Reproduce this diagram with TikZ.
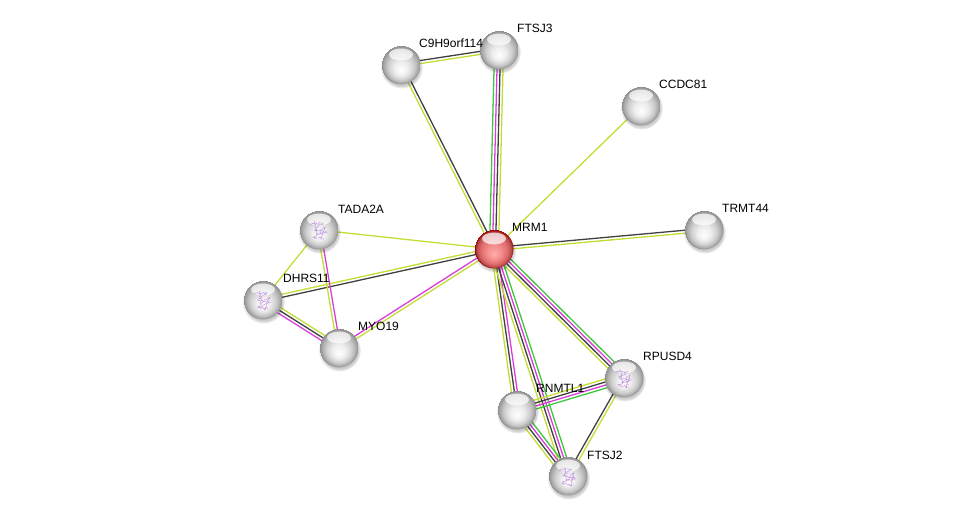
\documentclass[tikz,border=0pt]{standalone}
\usepackage{fontspec}
\setmainfont{Liberation Sans}
\usetikzlibrary{calc,shadows,decorations.pathmorphing}
\pgfdeclarelayer{background}
\pgfsetlayers{background,main}
\definecolor{ylw}{RGB}{196,220,52}
\definecolor{blk}{RGB}{64,64,64}
\definecolor{mag}{RGB}{220,60,220}
\definecolor{grn}{RGB}{60,200,60}
\definecolor{prot}{RGB}{180,120,220}
\pgfdeclareradialshading{greyball}{\pgfpoint{0bp}{-7bp}}{color(0bp)=(white); color(9bp)=(white!93!black); color(17bp)=(white!80!black); color(22bp)=(white!66!black); color(25bp)=(white!55!black)}
\pgfdeclareradialshading{redball}{\pgfpoint{0bp}{-7bp}}{color(0bp)=(red!32!white); color(9bp)=(red!42!white!96!black); color(17bp)=(red!52!white!88!black); color(22bp)=(red!58!white!72!black); color(25bp)=(red!60!black)}
\tikzset{
  ball/.style={circle, minimum size=39pt, inner sep=0pt, shading=greyball,
     circular drop shadow={shadow xshift=0.5pt, shadow yshift=-2pt, opacity=0.2, fill=black}},
  redb/.style={ball, shading=redball},
  lbl/.style={anchor=base west, inner sep=0pt, font=\fontsize{12}{14}\selectfont},
  hl/.style={fill=white, opacity=0.7},
  protein/.style={prot, line width=0.4pt, opacity=0.8, decorate, decoration={random steps, segment length=1.5pt, amplitude=1.2pt}},
}
\newcommand\link[4]{%
  \begin{pgfonlayer}{background}
  \foreach \cc [count=\ii] in {#4}{%
    \pgfmathsetmacro\off{(\ii-(#3+1)/2)*3.0}%
    \draw[\cc, line width=1.3pt] ($(#1)!\off pt!90:(#2)$) -- ($(#2)!\off pt!-90:(#1)$);
  }
  \end{pgfonlayer}}
\newcommand\shine[1]{\fill[hl] ($(#1)+(0,-10.5)$) ellipse (12 and 6);}
\newcommand\struct[1]{%
  \draw[protein] ($(#1)+(-9,-6)$) -- ($(#1)+(4,-7)$) -- ($(#1)+(-5,0)$) -- ($(#1)+(8,2)$) -- ($(#1)+(-6,7)$) -- ($(#1)+(5,9)$);
  \draw[protein] ($(#1)+(-4,-9)$) -- ($(#1)+(-2,5)$) -- ($(#1)+(6,-3)$) -- ($(#1)+(2,10)$);}
\begin{document}
\begin{tikzpicture}[x=1pt,y=-1pt]
\useasboundingbox (0,0) rectangle (975,522);
% nodes
\node[ball] (c9) at (401,65) {};
\node[ball] (ftsj3) at (499,50) {};
\node[ball] (ccdc) at (641,106) {};
\node[ball] (trmt) at (704,230) {};
\node[redb] (mrm1) at (494,249) {};
\node[ball] (tada) at (319,230) {};
\node[ball] (dhrs) at (263,300) {};
\node[ball] (myo) at (339,348) {};
\node[ball] (rpusd) at (624,378) {};
\node[ball] (rnmtl) at (517,410) {};
\node[ball] (ftsj2) at (568,476) {};
\foreach \n in {c9,ftsj3,ccdc,trmt,mrm1,tada,dhrs,myo,rpusd,rnmtl,ftsj2}{\shine{\n}}
\foreach \n in {tada,dhrs,rpusd,ftsj2}{\struct{\n}}
% labels
\node[lbl] (lc9) at (419,47) {C9H9orf114};
\node[lbl] (lftsj3) at (517,32) {FTSJ3};
\node[lbl] (lccdc) at (659,88) {CCDC81};
\node[lbl] (ltrmt) at (722,212) {TRMT44};
\node[lbl] (lmrm1) at (512,231) {MRM1};
\node[lbl] (ltada) at (338,213) {TADA2A};
\node[lbl] (ldhrs) at (283,282) {DHRS11};
\node[lbl] (lmyo) at (358,330) {MYO19};
\node[lbl] (lrpusd) at (643,360) {RPUSD4};
\node[lbl] (lrnmtl) at (536,392) {RNMTL1};
\node[lbl] (lftsj2) at (587,459) {FTSJ2};
% edges
\link{mrm1}{ftsj3}{4}{ylw,blk,mag,grn}
\link{mrm1}{c9}{2}{blk,ylw}
\link{c9}{ftsj3}{2}{ylw,blk}
\link{mrm1}{ccdc}{1}{ylw}
\link{mrm1}{trmt}{2}{ylw,blk}
\link{mrm1}{tada}{1}{ylw}
\link{mrm1}{dhrs}{2}{ylw,blk}
\link{mrm1}{myo}{2}{mag,ylw}
\link{tada}{dhrs}{1}{ylw}
\link{tada}{myo}{2}{ylw,mag}
\link{dhrs}{myo}{3}{mag,blk,ylw}
\link{mrm1}{rpusd}{4}{ylw,blk,mag,grn}
\link{mrm1}{rnmtl}{3}{ylw,blk,mag}
\link{mrm1}{ftsj2}{4}{ylw,blk,mag,grn}
\link{rnmtl}{rpusd}{4}{grn,mag,blk,ylw}
\link{rnmtl}{ftsj2}{4}{ylw,blk,mag,grn}
\link{rpusd}{ftsj2}{2}{blk,ylw}
\end{tikzpicture}
\end{document}
